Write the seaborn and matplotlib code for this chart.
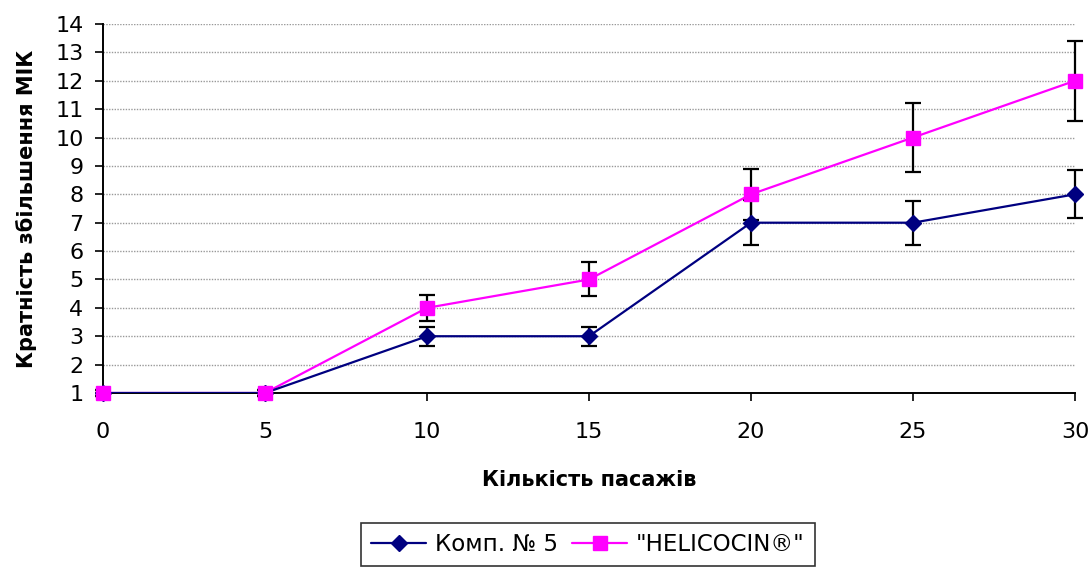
import pandas as pd
import matplotlib.pyplot as plt
import seaborn as sns

# дані
passages = [0, 5, 10, 15, 20, 25, 30]
komp5 = [1, 1, 3, 3, 7, 7, 8]
komp5_err = [0.1, 0.1, 0.33, 0.33, 0.8, 0.77, 0.85]
helicocin = [1, 1, 4, 5, 8, 10, 12]
helicocin_err = [0.1, 0.1, 0.45, 0.6, 0.9, 1.2, 1.4]
series_names = ['Комп. № 5', '"HELICOCIN®"']

df = pd.DataFrame({
    'x': passages * 2,
    'y': komp5 + helicocin,
    'err': komp5_err + helicocin_err,
    'series': [series_names[0]] * len(passages) + [series_names[1]] * len(passages),
})

sns.set_style('ticks')
plt.rcParams['font.family'] = ['DejaVu Sans']
plt.rcParams['text.color'] = 'black'
plt.rcParams['axes.labelcolor'] = 'black'

fig, ax = plt.subplots(figsize=(10.91, 5.68), dpi=100)
fig.subplots_adjust(left=0.0944, right=0.9853, top=0.9577, bottom=0.3081)

colors = {series_names[0]: '#000080', series_names[1]: '#FF00FF'}
markers = {series_names[0]: 'D', series_names[1]: 's'}
msize = {series_names[0]: 8, series_names[1]: 9.5}

# лінії похибок
for name in series_names:
    d = df[df['series'] == name]
    ax.errorbar(d['x'], d['y'], yerr=d['err'], fmt='none', ecolor='black',
                elinewidth=1.6, capsize=5.5, capthick=1.6, zorder=2, clip_on=False)

# лінії
sns.lineplot(data=df[df['series'] == series_names[1]], x='x', y='y', ax=ax,
             color=colors[series_names[1]], lw=1.6, zorder=3, legend=False)
sns.lineplot(data=df[df['series'] == series_names[0]], x='x', y='y', ax=ax,
             color=colors[series_names[0]], lw=1.6, zorder=4, legend=False)

# маркери
for i, name in enumerate(series_names):
    d = df[df['series'] == name]
    ax.plot(d['x'], d['y'], linestyle='none', marker=markers[name], ms=msize[name],
            color=colors[name], zorder=5 + i, clip_on=False)

handles = [plt.Line2D([], [], color=colors[n], marker=markers[n], ms=msize[n], lw=1.6)
           for n in series_names]

ax.set_xlim(0, 30)
ax.set_ylim(1, 14)
ax.set_xticks(range(0, 31, 5))
ax.set_yticks(range(1, 15))
ax.yaxis.grid(True, linestyle=(0, (1, 1)), color='#999999', lw=1)
ax.xaxis.grid(False)
ax.tick_params(axis='both', labelsize=16, direction='out', length=6, width=1.2,
               color='black', labelcolor='black')
ax.tick_params(axis='x', pad=15)
ax.tick_params(axis='y', pad=8)
for s in ['top', 'right']:
    ax.spines[s].set_visible(False)
for s in ['left', 'bottom']:
    ax.spines[s].set_color('black')
    ax.spines[s].set_linewidth(1.4)

ax.set_xlabel('Кількість пасажів', fontsize=15, fontweight='bold', labelpad=20)
ax.set_ylabel('Кратність збільшення МІК', fontsize=15, fontweight='bold', labelpad=13)

leg = fig.legend(handles, series_names, loc='lower center', bbox_to_anchor=(0.539, 0.003),
                 ncol=2, fontsize=16.5, frameon=True, fancybox=False, handlelength=2.4,
                 columnspacing=0.6, handletextpad=0.4, borderpad=0.45, borderaxespad=0)
leg.get_frame().set_edgecolor('black')
leg.get_frame().set_linewidth(1.2)

fig.savefig('out.png', dpi=100)
